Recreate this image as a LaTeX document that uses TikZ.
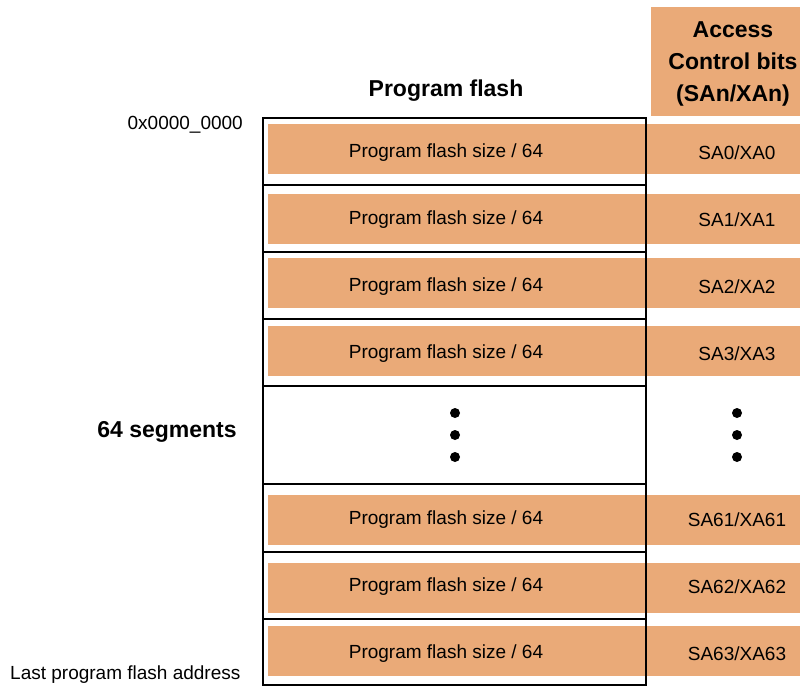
\documentclass[tikz,border=0pt]{standalone}
\usepackage{fontspec}
\setmainfont{Liberation Sans}
\definecolor{segorange}{RGB}{234,170,120}
\begin{document}
\begin{tikzpicture}[x=1pt,y=-1pt,
  bar/.style={fill=segorange,draw=none},
  segbox/.style={draw=black,line width=1.4pt},
  lbl/.style={font=\fontsize{19}{22}\selectfont,inner sep=0pt},
  blbl/.style={font=\fontsize{23}{32}\selectfont\bfseries,inner sep=0pt,align=center},
  dot/.style={circle,fill=black,inner sep=0pt,minimum size=10pt}]
\useasboundingbox (0,0) rectangle (800,685);
% header
\fill[segorange] (651,7) rectangle (800,116);
\node[blbl] (hdr) at (733,64) {Access\\Control bits\\(SAn/XAn)};
\node[blbl] (pf) at (446,91) {Program flash};
\node[lbl,anchor=east] (addr0) at (243,125) {0x0000\_0000};
\node[blbl] (seg64) at (167,432) {64 segments};
\node[lbl,anchor=west] (lastaddr) at (10,675) {Last program flash address};
% bars
\foreach \t/\ctr/\acc [count=\i] in {124/153/{SA0/XA0},194/220/{SA1/XA1},258/287/{SA2/XA2},326/354/{SA3/XA3},495/520/{SA61/XA61},563/587/{SA62/XA62},626/654/{SA63/XA63}}{
  \fill[segorange] (268,\t) rectangle (800,\t+50);
  \node[lbl] (pfs\i) at (446,\ctr) {Program flash size / 64};
  \node[lbl] (acc\i) at (737,\ctr) {\acc};
}
% segment boxes
\foreach \a/\b in {118/185,185/252,252/319,319/386,386/484,484/552,552/619,619/685}{
  \draw[segbox] (263,\a) rectangle (646,\b);
}
% dots
\foreach \y [count=\j] in {413,435,457}{
  \node[dot] (dl\j) at (455,\y) {};
  \node[dot] (dr\j) at (737,\y) {};
}
\end{tikzpicture}
\end{document}
